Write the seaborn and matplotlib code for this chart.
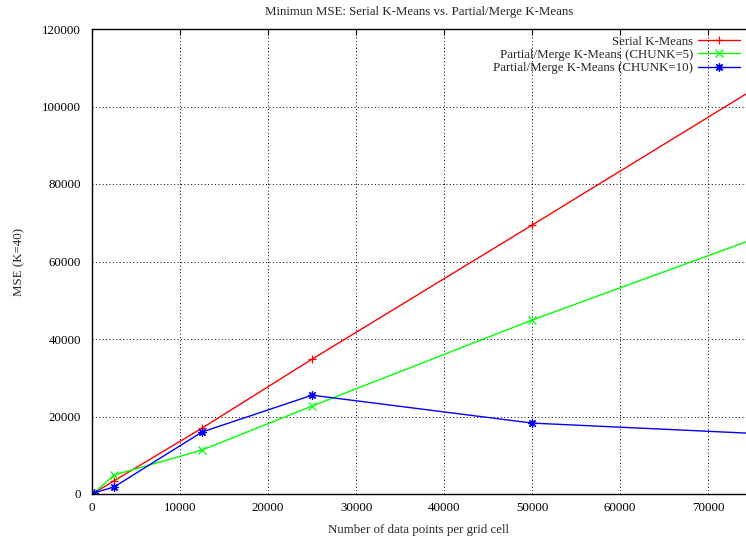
import matplotlib
matplotlib.use("Agg")
import matplotlib.pyplot as plt
import pandas as pd
import seaborn as sns

# data
points = [250, 2500, 12500, 25000, 50000, 100000]
serial_mse = [300, 3400, 17000, 34800, 69400, 139000]
chunk5_mse = [300, 4900, 11350, 22700, 44900, 86400]
chunk10_mse = [300, 1800, 16000, 25500, 18300, 13000]

series_names = [
    "Serial K-Means",
    "Partial/Merge K-Means (CHUNK=5)",
    "Partial/Merge K-Means (CHUNK=10)",
]
series_colors = ["#ff0000", "#00ff00", "#0000ff"]
series_markers = ["+", "x", (8, 2, 0)]

df = pd.DataFrame({
    "points": points * 3,
    "mse": serial_mse + chunk5_mse + chunk10_mse,
    "series": [s for s in series_names for _ in points],
})

sns.set_theme(style="white")
plt.rcParams["font.family"] = ["Liberation Serif", "DejaVu Serif"]
FS = 9.3
plt.rcParams["font.size"] = FS

fig = plt.figure(figsize=(7.46, 5.37), dpi=100)
ax = fig.add_axes([92 / 746, 43 / 537, 1 - 92 / 746, 465 / 537])

sns.lineplot(
    data=df, x="points", y="mse", hue="series", style="series",
    hue_order=series_names, style_order=series_names,
    palette=dict(zip(series_names, series_colors)),
    markers=dict(zip(series_names, series_markers)),
    dashes=False, linewidth=1.0, markersize=6, markeredgewidth=0.9,
    ax=ax, legend=True,
)
for line in ax.lines:
    line.set_markeredgecolor(line.get_color())

ax.set_xlim(0, 74300)
ax.set_ylim(0, 120000)
ax.set_xticks(range(0, 80000, 10000))
ax.set_yticks(range(0, 140000, 20000))
ax.grid(True, color="black", linestyle=(0, (1, 2.5)), linewidth=0.7)
ax.tick_params(direction="in", length=4, width=0.8, color="black",
               top=True, right=False, labelsize=FS, colors="black")
ax.tick_params(axis="y", pad=8)
ax.tick_params(axis="x", pad=6)
for side in ["left", "bottom", "top"]:
    ax.spines[side].set_color("black")
    ax.spines[side].set_linewidth(1.0)
ax.spines["right"].set_visible(False)

ax.set_xlabel("Number of data points per grid cell", fontsize=FS, labelpad=7)
ax.set_ylabel("MSE (K=40)", fontsize=FS, labelpad=12)
ax.set_title("Minimun MSE: Serial K-Means vs. Partial/Merge K-Means",
             fontsize=FS, pad=10)

leg = ax.legend(loc="upper right", frameon=False, markerfirst=False,
                fontsize=FS, handlelength=3.2, handletextpad=0.4,
                labelspacing=0.1, borderaxespad=0.1)
for text in leg.get_texts():
    text.set_ha("right")
leg._legend_box.align = "right"

fig.savefig("out.png", dpi=100)
